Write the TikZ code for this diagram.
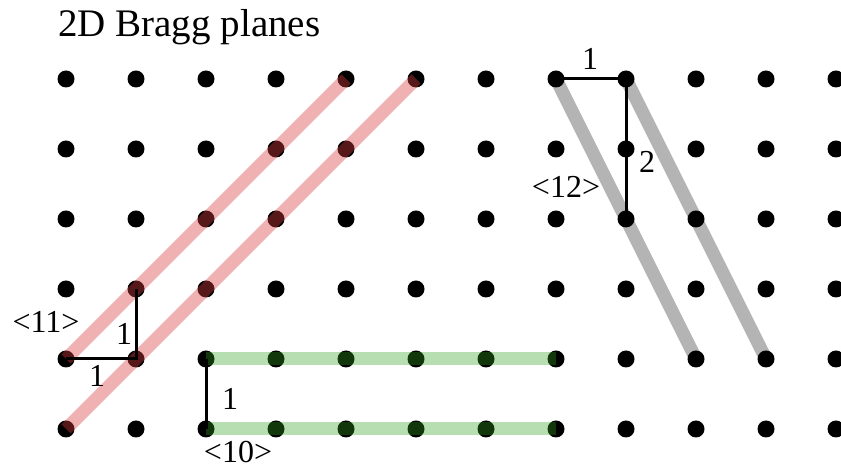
\documentclass[tikz,border=0pt]{standalone}
\usepackage{fontspec}
\setmainfont{Liberation Serif}
\definecolor{planered}{RGB}{215,60,60}
\definecolor{planegreen}{RGB}{50,160,30}
\definecolor{planegray}{RGB}{180,180,180}
\tikzset{
  latt/.style={circle,fill=black,inner sep=0pt,minimum size=17pt},
  redplane/.style={draw=planered,draw opacity=0.4,line width=13pt},
  greenplane/.style={draw=planegreen,draw opacity=0.35,line width=13pt},
  grayplane/.style={draw=planegray,line width=13pt},
  unitline/.style={draw=black,line width=3pt},
  lbl/.style={inner sep=0pt,anchor=base,font=\fontsize{32}{38}\selectfont},
  ttl/.style={inner sep=0pt,anchor=base west,font=\fontsize{39}{47}\selectfont}
}
\begin{document}
\begin{tikzpicture}[x=1pt,y=1pt]
\useasboundingbox (0,0) rectangle (841,470);
% lattice coordinates
\foreach \i in {0,...,11}{
  \foreach \j in {0,...,5}{
    \coordinate (p-\i-\j) at ({66+70*\i},{391-70*\j});
  }
}
% gray <12> planes (behind dots)
\draw[grayplane] (p-7-0) -- (p-9-4);
\draw[grayplane] (p-8-0) -- (p-10-4);
% lattice points
\foreach \i in {0,...,11}{
  \foreach \j in {0,...,5}{
    \node[latt] (d-\i-\j) at (p-\i-\j) {};
  }
}
% red <11> planes
\draw[redplane] (d-0-4.center) -- (d-4-0.center);
\draw[redplane] (d-0-5.center) -- (d-5-0.center);
% green <10> planes
\draw[greenplane] (d-2-4.center) -- (d-7-4.center);
\draw[greenplane] (d-2-5.center) -- (d-7-5.center);
% unit segments
\draw[unitline] (d-0-4.center) -- (d-1-4.center) -- (d-1-3.center);
\draw[unitline] (d-2-4.center) -- (d-2-5.center);
\draw[unitline] (d-7-0.center) -- (d-8-0.center) -- (d-8-2.center);
% labels
\node[ttl] (title) at (58,433) {2D Bragg planes};
\node[lbl] (l11) at (46,137) {<11>};
\node[lbl] (l11a) at (124,125) {1};
\node[lbl] (l11b) at (97,83) {1};
\node[lbl] (l10a) at (230,60) {1};
\node[lbl] (l10) at (238,7.5) {<10>};
\node[lbl] (l12a) at (590,400) {1};
\node[lbl] (l12b) at (647,297) {2};
\node[lbl] (l12) at (566,272) {<12>};
\end{tikzpicture}
\end{document}
